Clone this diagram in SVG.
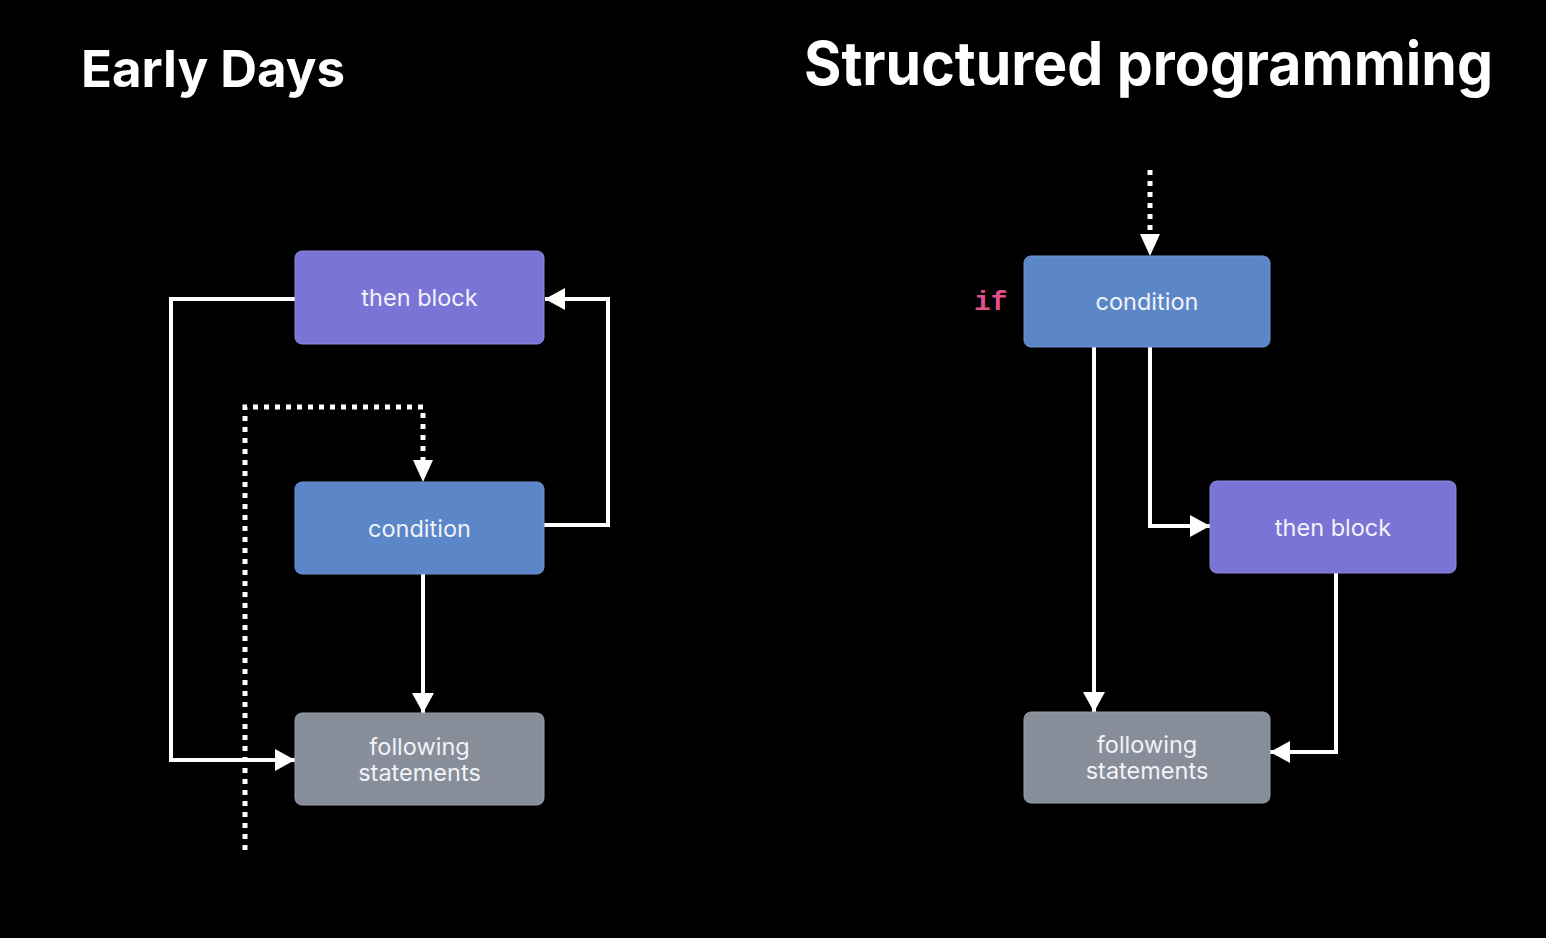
<svg xmlns="http://www.w3.org/2000/svg" width="1546" height="938" viewBox="0 0 1546 938">
<defs>
<marker id="ah" viewBox="0 0 20 22" refX="20" refY="11" markerWidth="20" markerHeight="22" markerUnits="userSpaceOnUse" orient="auto">
<path d="M0,0 L20,11 L0,22 z" fill="#ffffff"/>
</marker>
<style>
.title{font-family:Inter,"Liberation Sans",sans-serif;font-weight:700;fill:#ffffff}
.lbl{font-family:Inter,"Open Sans","Liberation Sans",sans-serif;font-size:23.5px;fill:#f2f2f8;text-anchor:middle}
.purple{fill:#7b74d7;stroke:#8e88e0;stroke-width:1}
.blue{fill:#5b87c8;stroke:#6c95d2;stroke-width:1}
.gray{fill:#878e9a;stroke:#969ca7;stroke-width:1}
.ln{fill:none;stroke:#ffffff;stroke-width:4;marker-end:url(#ah)}
.dot{fill:none;stroke:#ffffff;stroke-width:5;stroke-dasharray:5 6}
.kw{font-family:"Liberation Mono","DejaVu Sans Mono",monospace;font-weight:700;font-size:28px;fill:#e0508c}
</style>
</defs>
<rect x="0" y="0" width="1546" height="938" fill="#000000"/>
<text class="title" x="81" y="87" font-size="51" textLength="264" lengthAdjust="spacingAndGlyphs">Early Days</text>
<text class="title" x="804" y="85" font-size="60" textLength="689" lengthAdjust="spacingAndGlyphs">Structured programming</text>

<g id="connectors">
<path class="ln" d="M295,299 H171 V760 H295"/>
<path class="ln" d="M544,525 H608 V299 H545"/>
<path class="ln" d="M423,574 V713"/>
<path class="dot" d="M245,850 V407 H423 V462"/>
<path d="M413,460 L423,482 L433,460 z" fill="#ffffff"/>
<path class="dot" d="M1150,170 V234"/>
<path d="M1140,234 L1150,256 L1160,234 z" fill="#ffffff"/>
<path class="ln" d="M1094,347 V712"/>
<path class="ln" d="M1150,347 V526 H1210"/>
<path class="ln" d="M1336,573 V752 H1270"/>
</g>

<g id="left-then">
<rect class="purple" x="295" y="251" width="249" height="93" rx="7"/>
<text class="lbl" x="419.5" y="306">then block</text>
</g>
<g id="left-condition">
<rect class="blue" x="295" y="482" width="249" height="92" rx="7"/>
<text class="lbl" x="419.5" y="537">condition</text>
</g>
<g id="left-following">
<rect class="gray" x="295" y="713" width="249" height="92" rx="7"/>
<text class="lbl" x="419.5" y="755">following</text>
<text class="lbl" x="419.5" y="781">statements</text>
</g>

<g id="right-if">
<text class="kw" x="974" y="310">if</text>
</g>
<g id="right-condition">
<rect class="blue" x="1024" y="256" width="246" height="91" rx="7"/>
<text class="lbl" x="1147" y="310">condition</text>
</g>
<g id="right-then">
<rect class="purple" x="1210" y="481" width="246" height="92" rx="7"/>
<text class="lbl" x="1333" y="536">then block</text>
</g>
<g id="right-following">
<rect class="gray" x="1024" y="712" width="246" height="91" rx="7"/>
<text class="lbl" x="1147" y="753">following</text>
<text class="lbl" x="1147" y="779">statements</text>
</g>
</svg>
